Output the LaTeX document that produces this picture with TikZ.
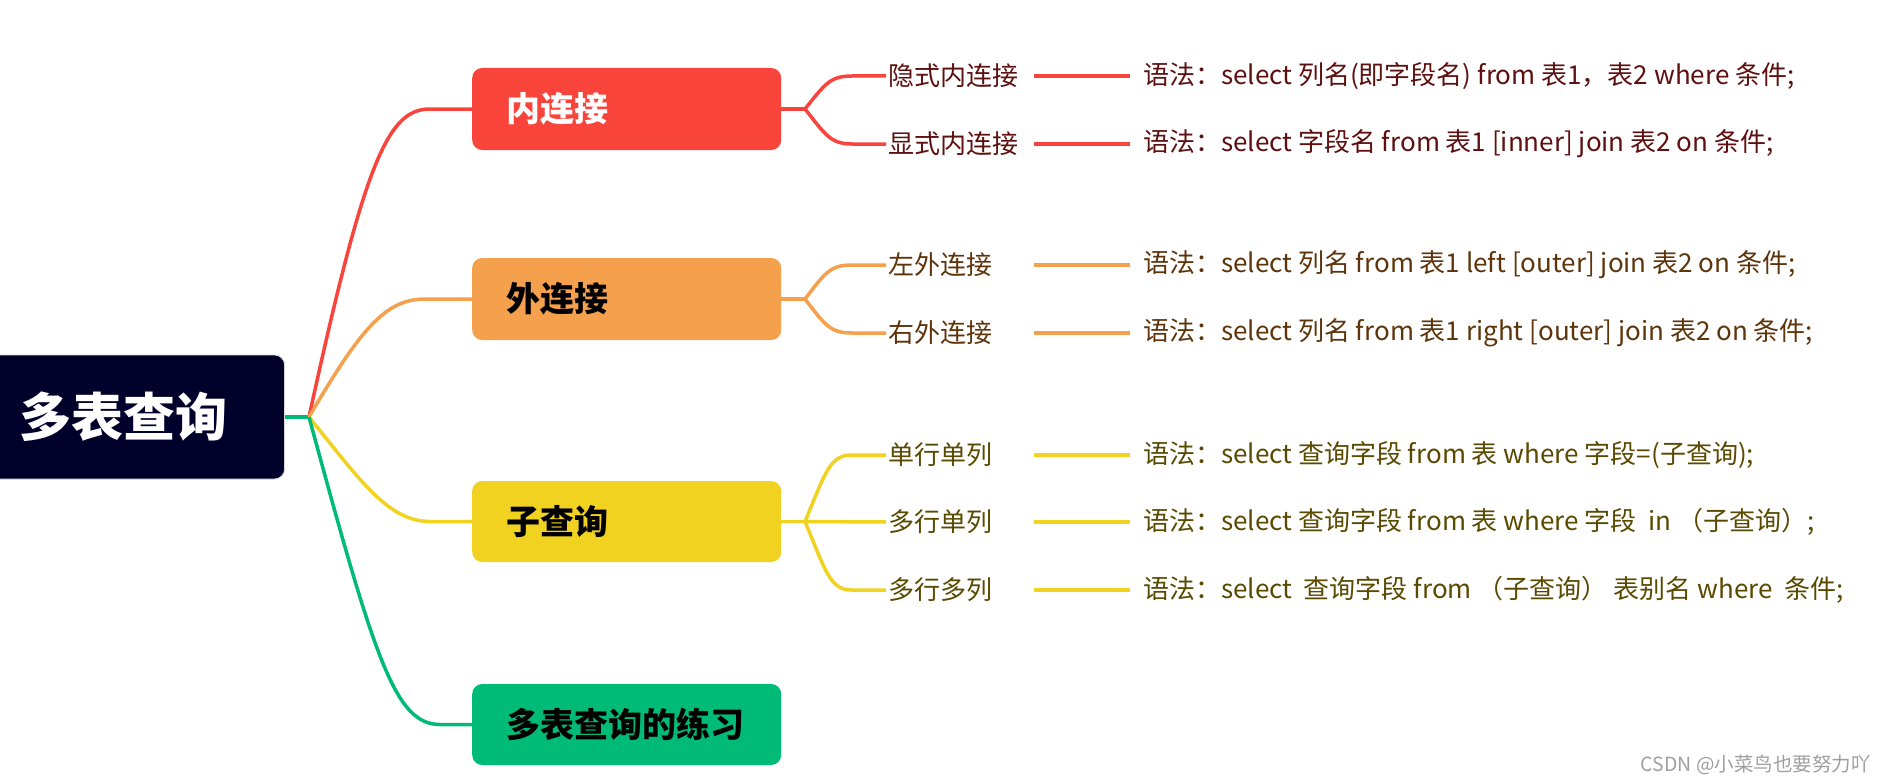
\documentclass[tikz,border=0pt]{standalone}
\usepackage{fontspec}
\setmainfont{Noto Sans CJK SC}
\definecolor{cred}{HTML}{F9443C}
\definecolor{corange}{HTML}{F4A04C}
\definecolor{cyellow}{HTML}{F1D221}
\definecolor{cgreen}{HTML}{00BB78}
\definecolor{cnavy}{HTML}{00002A}
\definecolor{tred}{RGB}{94,16,16}
\definecolor{torange}{RGB}{94,52,10}
\definecolor{tyellow}{RGB}{90,74,0}
\begin{document}
\begin{tikzpicture}[x=1pt,y=-1pt,
  branchbox/.style={rectangle, rounded corners=10pt, minimum width=309pt, minimum height=82pt,
    text width=241pt, inner xsep=34pt, align=left, anchor=west,
    font=\fontsize{34}{40}\selectfont\bfseries},
  childtxt/.style={anchor=west, inner xsep=2pt, inner ysep=2pt, text width=144pt, align=left,
    font=\fontsize{26}{30}\selectfont},
  syntxt/.style={anchor=west, inner sep=0pt, font=\fontsize{26}{30}\selectfont},
  link/.style={line width=3.5pt},
]
\clip (0,0) rectangle (1883,784);
\fill[white] (0,0) rectangle (1883,784);

% root
\node[rectangle, rounded corners=10pt, fill=cnavy, draw=gray!30, line width=0.8pt,
  minimum width=305pt, minimum height=124pt, anchor=east, text width=225pt, inner xsep=40pt,
  align=left, text=white, font=\fontsize{52}{60}\selectfont\bfseries] (root) at (285,417) {多表查询};
\coordinate (J) at (309,417);

% branch boxes
\node[branchbox, fill=cred, text=white] (b1) at (472,109) {内连接};
\node[branchbox, fill=corange, text=black] (b2) at (472,299) {外连接};
\node[branchbox, fill=cyellow, text=black, minimum height=81pt] (b3) at (472,521.5) {子查询};
\node[branchbox, fill=cgreen, text=black, minimum height=81pt] (b4) at (472,724.5) {多表查询的练习};

% root connectors
\draw[link, cgreen] (root.east) -- (J);
\draw[link, cred] (J) .. controls (365,160) and (388,109) .. (430,109) -- (b1.west);
\draw[link, corange] (J) .. controls (360,330) and (385,299) .. (425,299) -- (b2.west);
\draw[link, cyellow] (J) .. controls (360,480) and (388,521.5) .. (430,521.5) -- (b3.west);
\draw[link, cgreen] (J) .. controls (375,660) and (395,724.5) .. (440,724.5) -- (b4.west);

% sub junctions
\coordinate (s1) at (805,109);
\coordinate (s2) at (805,299);
\coordinate (s3) at (805,521.5);

% children: inner join
\node[childtxt, text=tred] (c11) at (886,76) {隐式内连接};
\node[childtxt, text=tred] (c12) at (886,144) {显式内连接};
\node[syntxt, text=tred] (d11) at (1143,76) {语法：select 列名(即字段名) from 表1，表2 where 条件;};
\node[syntxt, text=tred] (d12) at (1143,144) {语法：select 字段名 from 表1 [inner] join 表2 on 条件;};
\draw[link, cred] (b1.east) -- (s1);
\draw[link, cred] (s1) .. controls (825,84) and (830,76) .. (852,76) -- (c11.west);
\draw[link, cred] (s1) .. controls (825,134) and (830,144) .. (852,144) -- (c12.west);
\draw[link, cred] (c11.east) -- ([xshift=-13pt]d11.west);
\draw[link, cred] (c12.east) -- ([xshift=-13pt]d12.west);

% children: outer join
\node[childtxt, text=torange] (c21) at (886,265) {左外连接};
\node[childtxt, text=torange] (c22) at (886,333) {右外连接};
\node[syntxt, text=torange] (d21) at (1143,265) {语法：select 列名 from 表1 left [outer] join 表2 on 条件;};
\node[syntxt, text=torange] (d22) at (1143,333) {语法：select 列名 from 表1 right [outer] join 表2 on 条件;};
\draw[link, corange] (b2.east) -- (s2);
\draw[link, corange] (s2) .. controls (825,273) and (830,265) .. (852,265) -- (c21.west);
\draw[link, corange] (s2) .. controls (825,325) and (830,333) .. (852,333) -- (c22.west);
\draw[link, corange] (c21.east) -- ([xshift=-13pt]d21.west);
\draw[link, corange] (c22.east) -- ([xshift=-13pt]d22.west);

% children: subquery
\node[childtxt, text=tyellow] (c31) at (886,455) {单行单列};
\node[childtxt, text=tyellow] (c32) at (886,522) {多行单列};
\node[childtxt, text=tyellow] (c33) at (886,590) {多行多列};
\node[syntxt, text=tyellow] (d31) at (1143,455) {语法：select 查询字段 from 表 where 字段=(子查询);};
\node[syntxt, text=tyellow] (d32) at (1143,522) {语法：select 查询字段 from 表 where 字段\ \ in （子查询）;};
\node[syntxt, text=tyellow] (d33) at (1143,590) {语法：select\ \ 查询字段 from （子查询） 表别名 where\ \ 条件;};
\draw[link, cyellow] (b3.east) -- (s3);
\draw[link, cyellow] (s3) .. controls (826,471) and (830,455) .. (852,455) -- (c31.west);
\draw[link, cyellow] (s3) -- (c32.west);
\draw[link, cyellow] (s3) .. controls (826,572) and (830,590) .. (852,590) -- (c33.west);
\draw[link, cyellow] (c31.east) -- ([xshift=-13pt]d31.west);
\draw[link, cyellow] (c32.east) -- ([xshift=-13pt]d32.west);
\draw[link, cyellow] (c33.east) -- ([xshift=-13pt]d33.west);

% watermark
\node[anchor=east, inner sep=0pt, text=gray!75, font=\fontsize{19.5}{22}\selectfont] (wm) at (1871,765) {CSDN @小菜鸟也要努力吖};
\end{tikzpicture}
\end{document}
